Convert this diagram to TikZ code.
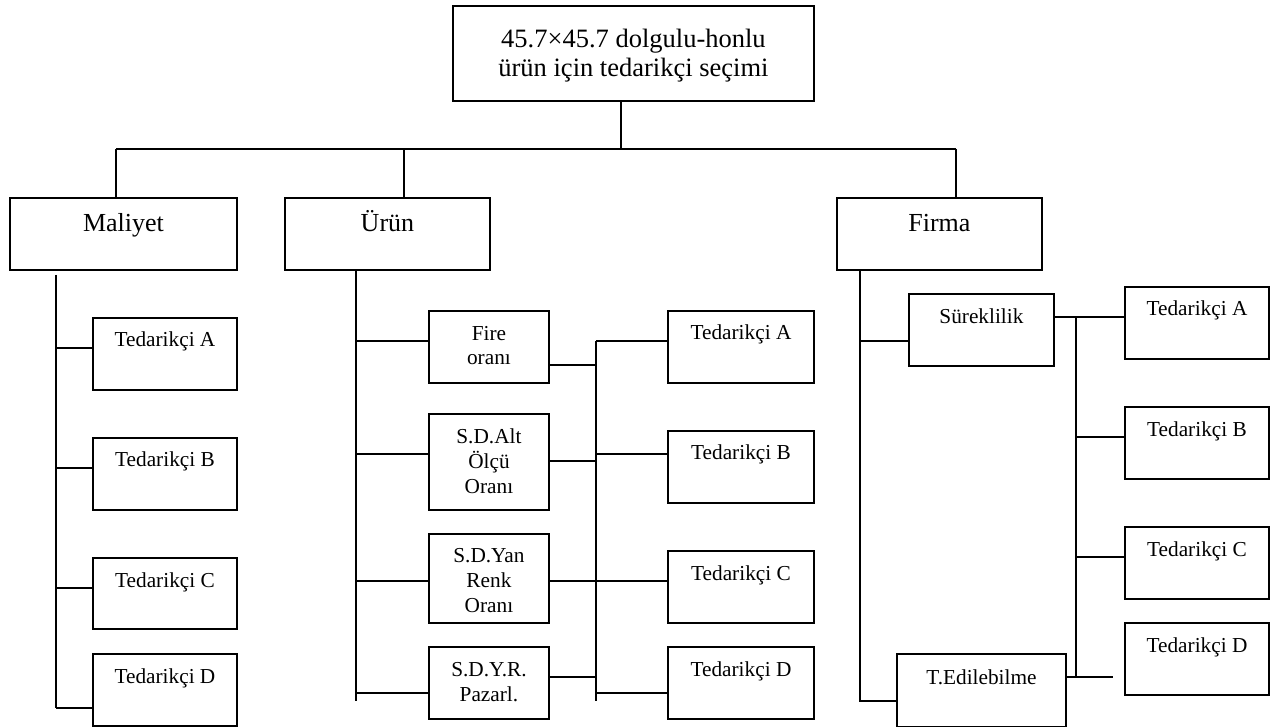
\documentclass[tikz,border=0pt]{standalone}
\usepackage{fontspec}
\setmainfont{Liberation Serif}
\usetikzlibrary{calc}
\tikzset{
  box/.style={draw, line width=1.9pt, inner sep=0pt, fill=white},
  ln/.style={line width=1.9pt},
  big/.style={font=\fontsize{26.5}{29}\selectfont, inner sep=0pt, align=center, anchor=base},
  sml/.style={font=\fontsize{21.3}{24.7}\selectfont, inner sep=0pt, align=center, anchor=base},
}
\newcommand\bx[5]{\node[box, anchor=north west, minimum width=#4pt-#2pt, minimum height=#5pt-#3pt] (#1) at (#2,#3) {};}
\begin{document}
\begin{tikzpicture}[x=1pt,y=-1pt]
\useasboundingbox (0,0) rectangle (1270,727);
% boxes
\bx{top}{452}{5}{813}{100}
\bx{mal}{9}{197}{236}{269}
\bx{urn}{284}{197}{489}{269}
\bx{frm}{836}{197}{1041}{269}
\bx{mA}{92}{317}{236}{389}
\bx{mB}{92}{437}{236}{509}
\bx{mC}{92}{557}{236}{628}
\bx{mD}{92}{653}{236}{725}
\bx{f1}{428}{310}{548}{382}
\bx{f2}{428}{413}{548}{509}
\bx{f3}{428}{533}{548}{622}
\bx{f4}{428}{646}{548}{718}
\bx{uA}{667}{310}{813}{382}
\bx{uB}{667}{430}{813}{502}
\bx{uC}{667}{550}{813}{622}
\bx{uD}{667}{646}{813}{718}
\bx{su}{908}{293}{1053}{365}
\bx{te}{896}{653}{1065}{726}
\bx{rA}{1124}{286}{1268}{358}
\bx{rB}{1124}{406}{1268}{478}
\bx{rC}{1124}{526}{1268}{598}
\bx{rD}{1124}{622}{1268}{694}
% texts (anchor=base is the baseline of the last line)
\node[big] at ($(top.north)+(0,72)$) {45.7×45.7 dolgulu-honlu\\ürün için tedarikçi seçimi};
\node[big, font=\fontsize{26}{29}\selectfont] at ($(mal.north)+(0,35)$) {Maliyet};
\node[big, font=\fontsize{26}{29}\selectfont] at ($(urn.north)+(0,35)$) {Ürün};
\node[big, font=\fontsize{26}{29}\selectfont] at ($(frm.north)+(0,35)$) {Firma};
\foreach \n/\t in {mA/A,mB/B,mC/C,mD/D,uA/A,uB/B,uC/C,uD/D,rA/A,rB/B,rC/C,rD/D}
  \node[sml] at ($(\n.north)+(0,30)$) {Tedarikçi \t};
\node[sml] at ($(f1.north)+(0,55)$) {Fire\\oranı};
\node[sml] at ($(f2.north)+(0,80)$) {S.D.Alt\\Ölçü\\Oranı};
\node[sml] at ($(f3.north)+(0,79)$) {S.D.Yan\\Renk\\Oranı};
\node[sml] at ($(f4.north)+(0,55)$) {S.D.Y.R.\\Pazarl.};
\node[sml] at ($(su.north)+(0,31)$) {Süreklilik};
\node[sml] at ($(te.north)+(0,31)$) {T.Edilebilme};
% top level connectors
\coordinate (bus) at (621,149);
\coordinate (dM) at (116,149);
\coordinate (dU) at (404,149);
\coordinate (dF) at (956,149);
\draw[ln] (top.south -| bus) -- (bus);
\draw[ln] (dM) -- (dF);
\draw[ln] (dM) -- (dM |- mal.north);
\draw[ln] (dU) -- (dU |- urn.north);
\draw[ln] (dF) -- (dF |- frm.north);
% Maliyet column
\coordinate (mt) at (56,275);
\coordinate (mb) at (56,708);
\draw[ln] (mt) -- (mb);
\draw[ln] (mt |- 0,348) -- (mA.west |- 0,348);
\draw[ln] (mt |- 0,468) -- (mB.west |- 0,468);
\draw[ln] (mt |- 0,588) -- (mC.west |- 0,588);
\draw[ln] (mb) -- (mD.west |- mb);
% Urun column
\coordinate (ut) at (356,269);
\coordinate (ub) at (356,701);
\draw[ln] (urn.south -| ut) -- (ub);
\draw[ln] (ut |- 0,341) -- (f1.west |- 0,341);
\draw[ln] (ut |- 0,454) -- (f2.west |- 0,454);
\draw[ln] (ut |- 0,581) -- (f3.west |- 0,581);
\draw[ln] (ut |- 0,693) -- (f4.west |- 0,693);
\coordinate (vt) at (596,341);
\coordinate (vb) at (596,701);
\draw[ln] (vt) -- (vb);
\draw[ln] (f1.east |- 0,365) -- (vt |- 0,365);
\draw[ln] (f2.east |- 0,461) -- (vt |- 0,461);
\draw[ln] (f3.east |- 0,581) -- (uC.west |- 0,581);
\draw[ln] (f4.east |- 0,677) -- (vt |- 0,677);
\draw[ln] (vt) -- (uA.west |- vt);
\draw[ln] (vt |- 0,454) -- (uB.west |- 0,454);
\draw[ln] (vt |- 0,693) -- (uD.west |- 0,693);
% Firma column
\coordinate (ft) at (860,269);
\coordinate (fb) at (860,701);
\draw[ln] (frm.south -| ft) -- (fb) -- (te.west |- fb);
\draw[ln] (ft |- 0,341) -- (su.west |- 0,341);
\coordinate (wt) at (1076,317);
\coordinate (wb) at (1076,677);
\draw[ln] (su.east |- wt) -- (rA.west |- wt);
\draw[ln] (wt) -- (wb);
\draw[ln] (wt |- 0,437) -- (rB.west |- 0,437);
\draw[ln] (wt |- 0,557) -- (rC.west |- 0,557);
\coordinate (tend) at (1113,677);
\draw[ln] (te.east |- tend) -- (tend);
\end{tikzpicture}
\end{document}
